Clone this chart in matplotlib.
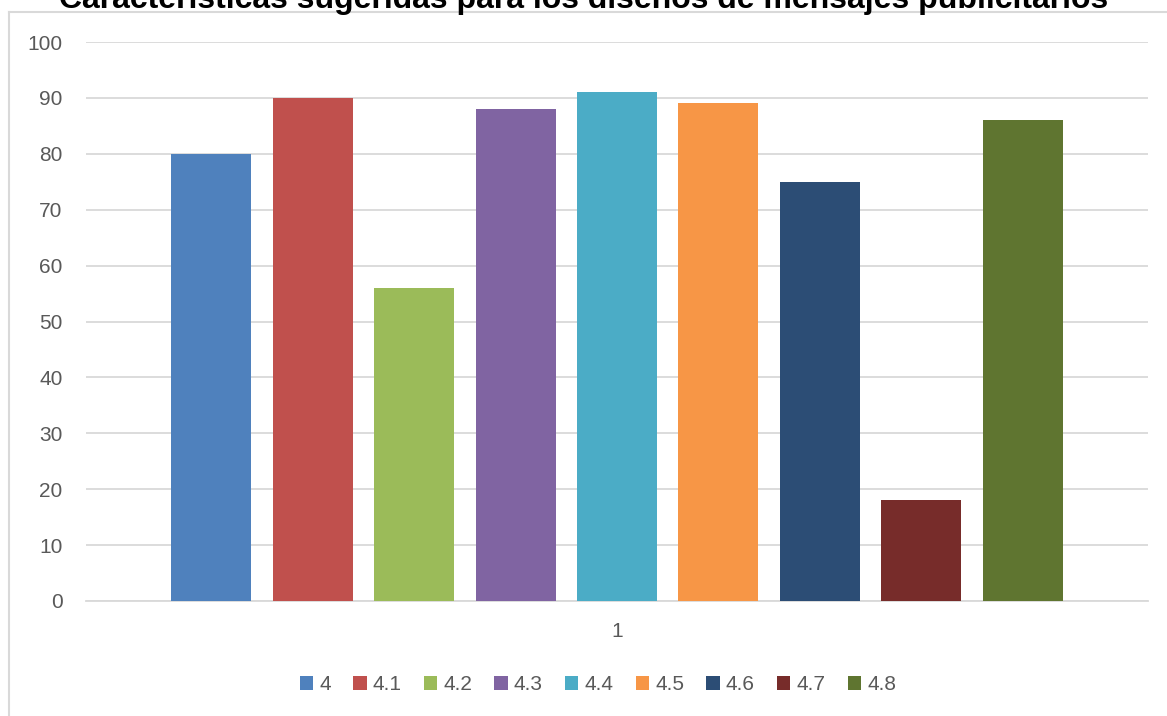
import numpy as np
import matplotlib
matplotlib.use('Agg')
import matplotlib.pyplot as plt
from matplotlib.lines import Line2D

plt.rcParams['font.family'] = ['Liberation Sans', 'DejaVu Sans']

# series names and their value for category "1"
series = ['4', '4.1', '4.2', '4.3', '4.4', '4.5', '4.6', '4.7', '4.8']
values = [80, 90, 56, 88, 91, 89, 75, 18, 86]
colors = ['#4f81bd', '#c0504d', '#9bbb59', '#8064a2', '#4bacc6',
          '#f79646', '#2c4d75', '#772c2a', '#5f7530']
categories = ['1']

fig = plt.figure(figsize=(11.67, 7.16), dpi=100)
ax = fig.add_axes([86 / 1167, 1 - 601 / 716, 1062 / 1167, 559 / 716])

step = 0.0955
width = 0.0753
for i, (name, val, col) in enumerate(zip(series, values, colors)):
    ax.bar(0 + (i - 4) * step, val, width=width, color=col, label=name, zorder=3)

ax.set_xlim(-0.5, 0.5)
ax.set_ylim(0, 100)
ax.set_yticks(range(0, 101, 10))
ax.set_xticks([0])
ax.set_xticklabels(categories)
ax.grid(axis='y', color='#d9d9d9', linewidth=1.3, zorder=0)
for s in ['left', 'right', 'top']:
    ax.spines[s].set_visible(False)
ax.spines['bottom'].set_color('#d9d9d9')
ax.spines['bottom'].set_linewidth(1.3)
ax.tick_params(axis='both', length=0, labelsize=15, labelcolor='#595959')
ax.tick_params(axis='y', pad=17)
ax.tick_params(axis='x', pad=15)

# outer chart frame (left and top edges visible)
fig.add_artist(Line2D([9 / 1167, 9 / 1167], [0, 1 - 12 / 716], color='#d9d9d9', lw=1.5))
fig.add_artist(Line2D([9 / 1167, 1], [1 - 12 / 716, 1 - 12 / 716], color='#d9d9d9', lw=1.5))

fig.text(0.5, 1.0, 'Características sugeridas para los diseños de mensajes publicitarios',
         ha='center', va='center', fontsize=23, fontweight='bold', color='black')

fig.legend(loc='center', bbox_to_anchor=(598 / 1167, 1 - 685 / 716), ncol=9, frameon=False,
           fontsize=15, labelcolor='#595959', handlelength=0.65, handleheight=0.65,
           handletextpad=0.3, columnspacing=1.05)

fig.savefig('out.png', dpi=100)
